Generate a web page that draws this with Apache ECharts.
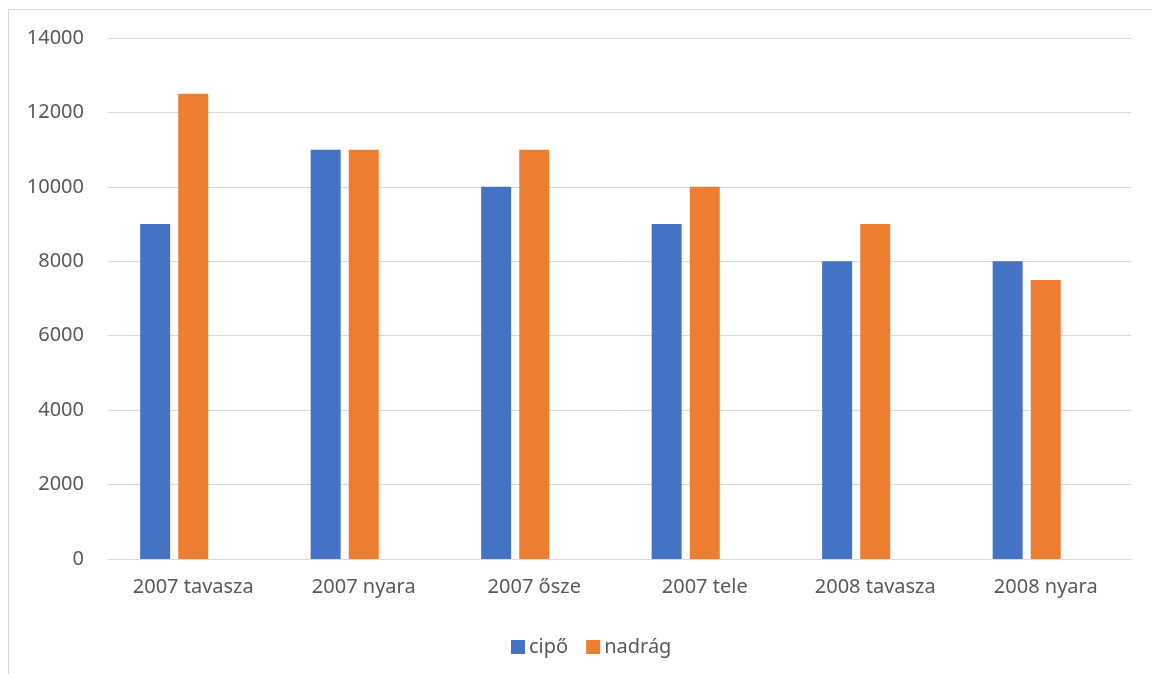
<!DOCTYPE html>
<html>
<head>
<meta charset="utf-8">
<script src="https://cdn.jsdelivr.net/npm/echarts@6/dist/echarts.min.js"></script>
<style>
  html, body { margin: 0; padding: 0; background: #fff; }
  #chart { width: 1152px; height: 674px; }
</style>
</head>
<body>
<div id="chart"></div>
<script>
// Seasons shown along the category axis
const categories = ['2007 tavasza', '2007 nyara', '2007 ősze', '2007 tele', '2008 tavasza', '2008 nyara'];
// Sales per season
const cipo = [9000, 11000, 10000, 9000, 8000, 8000];
const nadrag = [12500, 11000, 11000, 10000, 9000, 7500];
// Third column slot in each group is left empty
const ures = [null, null, null, null, null, null];
// Value axis range
const yMin = 0, yMax = 14000, yStep = 2000;

const FONT = '"Noto Sans", "Open Sans", sans-serif';
const TXT = '#595959';
const LINE = '#d9d9d9';

const chart = echarts.init(document.getElementById('chart'), null, { renderer: 'canvas' });
chart.setOption({
  animation: false,
  backgroundColor: '#ffffff',
  textStyle: { fontFamily: FONT },
  graphic: [{
    type: 'rect',
    shape: { x: 8.5, y: 9.5, width: 1300, height: 800 },
    style: { fill: null, stroke: LINE, lineWidth: 1 },
    silent: true
  }],
  grid: { left: 108, right: 21, top: 38, bottom: 115, containLabel: false },
  legend: {
    data: ['cipő', 'nadrág'],
    left: 506,
    top: 632,
    itemWidth: 14,
    itemHeight: 14,
    itemGap: 18,
    icon: 'rect',
    textStyle: { fontFamily: FONT, fontSize: 20, color: TXT, padding: [0, 0, 0, -1] }
  },
  xAxis: {
    type: 'category',
    data: categories,
    axisLine: { lineStyle: { color: LINE, width: 1 } },
    axisTick: { show: false },
    axisLabel: { color: TXT, fontFamily: FONT, fontSize: 20, margin: 18 }
  },
  yAxis: {
    type: 'value',
    min: yMin,
    max: yMax,
    interval: yStep,
    axisLine: { show: false },
    axisTick: { show: false },
    splitLine: { lineStyle: { color: LINE, width: 1 } },
    axisLabel: { color: TXT, fontFamily: FONT, fontSize: 20, margin: 24,
      formatter: function (v) { return String(v); } }
  },
  series: [
    { name: 'cipő', type: 'bar', data: cipo, barWidth: 30, barGap: '27%',
      itemStyle: { color: '#4472C4' } },
    { name: 'nadrág', type: 'bar', data: nadrag, barWidth: 30, barGap: '27%',
      itemStyle: { color: '#ED7D31' } },
    { name: '', type: 'bar', data: ures, barWidth: 30, barGap: '27%',
      itemStyle: { color: '#A5A5A5' } }
  ]
});
</script>
</body>
</html>
